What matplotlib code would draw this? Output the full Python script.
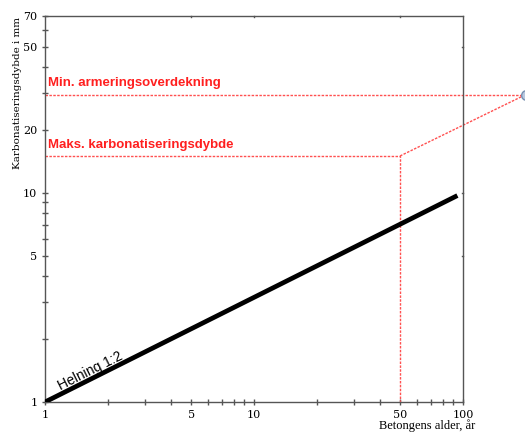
import numpy as np
import matplotlib as mpl
mpl.use('Agg')
import matplotlib.pyplot as plt
from matplotlib.ticker import FixedLocator, NullFormatter

### data
age = [1, 94]
depth = [1, 9.7]
cover = 29.5
max_depth = 15
age_limit = 50
proj_age = [50, 200]
proj_depth = [15, 29.5]

xticks = [1, 5, 10, 50, 100]
xminor = [2, 3, 4, 6, 7, 8, 9, 20, 30, 40, 60, 70, 80, 90]
yticks = [1, 5, 10, 20, 50, 70]
yminor = [2, 3, 4, 6, 7, 8, 9, 30, 40, 60]

red = '#ff1f1f'
dash = '#ff5050'
axcol = '#555555'

fig = plt.figure(figsize=(5.25, 4.32), dpi=100)
ax = fig.add_axes([45/525, 30/432, 418/525, 386/432])
ax.set_xscale('log')
ax.set_yscale('log')
ax.set_xlim(1, 100)
ax.set_ylim(1, 70)

ax.plot(age, depth, color='black', lw=3.4, solid_capstyle='butt', zorder=3)

# red helper lines
ls = (0, (1.8, 1.0))
ax.plot([1, 300], [cover, cover], ls=ls, color=dash, lw=1, clip_on=False)
ax.plot([1, age_limit, age_limit], [max_depth, max_depth, 1], ls=ls, color=dash, lw=1, clip_on=False)
ax.plot(proj_age, proj_depth, ls=ls, color=dash, lw=1, clip_on=False)
ax.plot([proj_age[-1]], [proj_depth[-1]], 'o', ms=7, mfc='#b8c8e0', mec='#7890b0', clip_on=False)

ax.text(1.03, 32.3, 'Min. armeringsoverdekning', color=red, fontsize=9.5,
        fontweight='bold', family='Liberation Sans')
ax.text(1.03, 16.3, 'Maks. karbonatiseringsdybde', color=red, fontsize=9.5,
        fontweight='bold', family='Liberation Sans')
ax.text(1.19, 1.14, 'Helning 1:2', rotation=26.6, fontsize=10,
        family='Liberation Sans', rotation_mode='anchor')

for s in ax.spines.values():
    s.set_color(axcol)
    s.set_linewidth(1)

ax.xaxis.set_major_locator(FixedLocator(xticks))
ax.xaxis.set_minor_locator(FixedLocator(xminor))
ax.yaxis.set_major_locator(FixedLocator(yticks))
ax.yaxis.set_minor_locator(FixedLocator(yminor))
ax.xaxis.set_minor_formatter(NullFormatter())
ax.yaxis.set_minor_formatter(NullFormatter())
ax.set_xticklabels([str(v) for v in xticks], family='DejaVu Serif', fontsize=8)
ax.set_yticklabels([str(v) for v in yticks], family='DejaVu Serif', fontsize=8)
ax.tick_params(which='both', direction='inout', length=5, width=1, color=axcol, pad=3)
ax.tick_params(which='both', top=False, right=False)

# short inward ticks on top and right at major values
for v in [5, 10, 50]:
    ax.plot([v, v], [70, 70 * 0.985], color=axcol, lw=1, clip_on=False)
for v in [5, 10, 50]:
    ax.plot([100, 98.5], [v, v], color=axcol, lw=1, clip_on=False)

ax.set_ylabel('Karbonatiseringsdybde i mm', family='DejaVu Serif', fontsize=7.5)
ax.yaxis.set_label_coords(-0.055, 0.8)
ax.set_xlabel('Betongens alder, år', family='Liberation Serif', fontsize=9)
ax.xaxis.set_label_coords(0.915, -0.045)

fig.savefig('out.png', dpi=100)
